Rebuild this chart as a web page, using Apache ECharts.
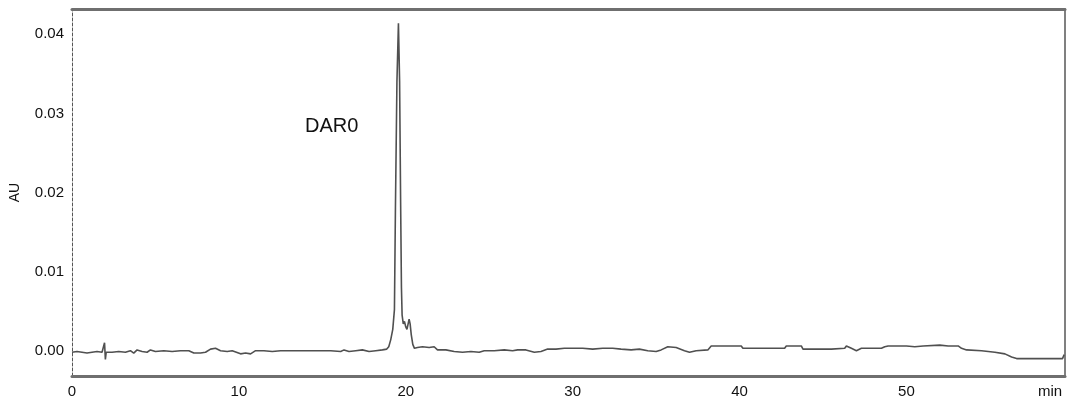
<!DOCTYPE html>
<html>
<head>
<meta charset="utf-8">
<script src="https://cdn.jsdelivr.net/npm/echarts@6/dist/echarts.min.js"></script>
<style>
  html, body { margin: 0; padding: 0; background: #ffffff; }
  #chart { width: 1068px; height: 403px; }
</style>
</head>
<body>
<div id="chart"></div>
<script>
// Retention time (min)
const timeMin = [
  0.0, 0.3, 0.6, 0.9, 1.2, 1.5, 1.8, 1.95, 2.0, 2.05, 2.4, 2.8, 3.2, 3.5, 3.7, 3.9,
  4.2, 4.5, 4.7, 5.0, 5.5, 6.0, 6.5, 7.0, 7.3, 7.7, 8.0, 8.3, 8.6, 8.9, 9.3, 9.6,
  10.1, 10.4, 10.7, 11.0, 11.5, 12.0, 12.5, 13.0, 13.5, 14.2, 14.25, 14.3, 15.0, 15.5,
  16.1, 16.3, 16.6, 17.0, 17.4, 17.8, 18.2, 18.6,
  18.86, 18.98, 19.1, 19.22, 19.32, 19.38, 19.47, 19.56, 19.63, 19.69, 19.74, 19.78,
  19.85, 19.92, 20.0, 20.07, 20.14, 20.2, 20.26, 20.33, 20.42, 20.52, 20.7,
  21.0, 21.4, 21.7, 21.9, 22.4, 22.9, 23.4, 23.9, 24.4, 24.7, 25.3, 25.9, 26.4, 26.5,
  26.7, 27.2, 27.7, 28.1, 28.5, 29.0, 29.5, 30.1, 30.6, 31.2, 31.8, 32.4, 32.9, 33.5,
  34.0, 34.5, 35.0, 35.3, 35.7, 36.2, 36.7, 37.0, 37.4, 38.1, 38.3, 39.0, 40.1, 40.2,
  41.5, 42.7, 42.8, 43.7, 43.8, 44.5, 45.5, 46.3, 46.4, 46.7, 47.0, 47.3, 48.5, 48.7,
  48.9, 50.0, 50.5, 51.0, 52.0, 52.5, 53.1, 53.3, 53.6, 54.5, 54.6, 55.3, 55.4, 55.9,
  56.3, 56.6, 57.5, 58.5, 59.35, 59.45
];
// Absorbance (AU)
const absorbanceAU = [
  -0.0002, -0.0001, -0.0002, -0.0003, -0.0002, -0.0001, -0.0002, 0.0010, -0.0011, -0.0002, -0.0002, -0.0001, -0.0002, 0.0000, -0.0003, 0.0001,
  -0.0001, -0.0002, 0.0001, -0.0001, 0.0000, -0.0001, 0.0000, 0.0000, -0.0003, -0.0003, -0.0002, 0.0002, 0.0003, 0.0000, -0.0001, 0.0000,
  -0.0004, -0.0003, -0.0004, 0.0000, 0.0000, -0.0001, 0.0000, 0.0000, 0.0000, 0.0000, -0.0002, 0.0000, 0.0000, 0.0000,
  -0.0001, 0.0001, -0.0001, 0.0000, 0.0001, -0.0001, 0.0000, 0.0001,
  0.0002, 0.0005, 0.0014, 0.0027, 0.0052, 0.0180, 0.0340, 0.0414, 0.0340, 0.0190, 0.0080, 0.0045,
  0.0034, 0.0037, 0.0030, 0.0027, 0.0034, 0.0040, 0.0034, 0.0020, 0.0008, 0.0003, 0.0004,
  0.0005, 0.0004, 0.0005, 0.0001, 0.0001, -0.0001, -0.0002, -0.0001, -0.0002, 0.0000, 0.0000, 0.0001, 0.0000, -0.0002,
  0.0001, 0.0001, -0.0002, -0.0001, 0.0002, 0.0002, 0.0003, 0.0003, 0.0003, 0.0002, 0.0003, 0.0003, 0.0002, 0.0001,
  0.0002, 0.0000, -0.0001, 0.0001, 0.0005, 0.0004, 0.0000, -0.0002, 0.0000, 0.0001, 0.0006, 0.0006, 0.0006, 0.0003,
  0.0003, 0.0003, 0.0006, 0.0006, 0.0002, 0.0002, 0.0002, 0.0003, 0.0006, 0.0003, 0.0000, 0.0003, 0.0003, 0.0005,
  0.0006, 0.0006, 0.0005, 0.0006, 0.0007, 0.0006, 0.0006, 0.0003, 0.0001, 0.0000, -0.0002, -0.0002, -0.0004, -0.0004,
  -0.0008, -0.0010, -0.0010, -0.0010, -0.0010, -0.0005
];
const yTickLabels = ['0.00', '0.01', '0.02', '0.03', '0.04'];
const xTickLabels = ['0', '10', '20', '30', '40', '50'];
const peakLabel = 'DAR0';
const xUnit = 'min';
const yUnit = 'AU';

const seriesData = timeMin.map((t, i) => [t, absorbanceAU[i]]);
const FONT = '"Liberation Sans", Arial, sans-serif';

const chart = echarts.init(document.getElementById('chart'), null, { renderer: 'canvas' });
chart.setOption({
  animation: false,
  backgroundColor: '#ffffff',
  grid: { left: 70, right: 3, top: 9, bottom: 27, containLabel: false },
  xAxis: [{
    type: 'value', min: 0, max: 59.5, interval: 10,
    axisLine: { show: true, onZero: false, lineStyle: { color: '#6f6f6f', width: 3 } },
    axisTick: { show: false },
    splitLine: { show: false },
    axisLabel: {
      showMaxLabel: false, margin: 8, color: '#111', fontSize: 15, fontFamily: FONT,
      formatter: v => { const i = Math.round(v / 10); return (Math.abs(v - i * 10) < 1e-6 && xTickLabels[i] !== undefined) ? xTickLabels[i] : ''; }
    }
  }, {
    type: 'value', position: 'top', min: 0, max: 59.5,
    axisLine: { show: true, onZero: false, lineStyle: { color: '#6f6f6f', width: 3 } },
    axisTick: { show: false }, axisLabel: { show: false }, splitLine: { show: false }
  }],
  yAxis: [{
    type: 'value', min: -0.0032, max: 0.0432,
    name: yUnit, nameLocation: 'middle', nameGap: 50,
    nameTextStyle: { color: '#111', fontSize: 14, fontFamily: FONT },
    axisLine: { show: true, onZero: false, lineStyle: { color: '#555', width: 1, type: [3, 2] } },
    axisTick: { show: false },
    splitLine: { show: false },
    axisLabel: {
      showMinLabel: false, showMaxLabel: false, margin: 8, color: '#111', fontSize: 15, fontFamily: FONT,
      formatter: v => { const i = Math.round(v / 0.01); return (Math.abs(v - i * 0.01) < 1e-9 && yTickLabels[i] !== undefined) ? yTickLabels[i] : ''; }
    }
  }, {
    type: 'value', position: 'right', min: -0.0032, max: 0.0432,
    axisLine: { show: true, onZero: false, lineStyle: { color: '#808080', width: 2 } },
    axisTick: { show: false }, axisLabel: { show: false }, splitLine: { show: false }
  }],
  graphic: [
    { type: 'text', left: 305, top: 116, style: { text: peakLabel, fill: '#111', font: '20px ' + FONT } },
    { type: 'text', left: 1038, top: 384, style: { text: xUnit, fill: '#111', font: '15px ' + FONT } }
  ],
  series: [{
    type: 'line', xAxisIndex: 0, yAxisIndex: 0,
    data: seriesData, showSymbol: false, smooth: false,
    lineStyle: { color: '#505050', width: 1.6 }
  }]
});
</script>
</body>
</html>
